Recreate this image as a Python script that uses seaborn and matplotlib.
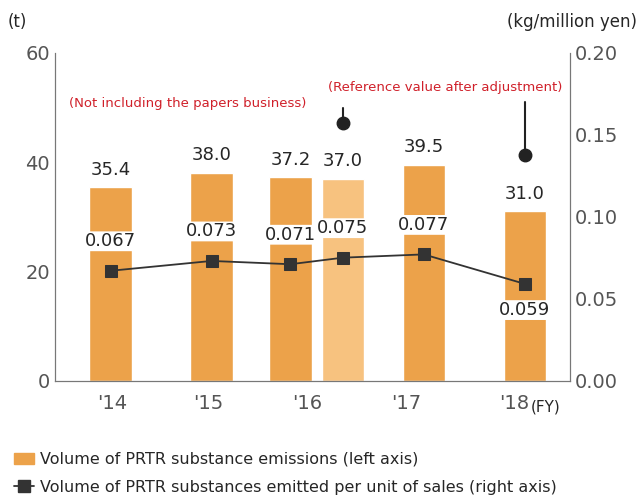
import matplotlib
matplotlib.use("Agg")
import matplotlib.pyplot as plt
import seaborn as sns
from matplotlib.patches import Patch
from matplotlib.lines import Line2D

years = ["'14", "'15", "'16", "'17", "'18"]
bar_pos = [0, 1, 1.78, 2.3, 3.1, 4.1]
emissions = [35.4, 38.0, 37.2, 37.0, 39.5, 31.0]
bar_colors = ["#eca24a", "#eca24a", "#eca24a", "#f7c27f", "#eca24a", "#eca24a"]
per_sales = [0.067, 0.073, 0.071, 0.075, 0.077, 0.059]
tick_pos = [0.02, 0.97, 1.95, 2.93, 4.0]

sns.set_style("white")
fig = plt.figure(figsize=(6.4, 5.04), dpi=100)
ax = fig.add_axes([0.086, 0.245, 0.805, 0.65])
ax2 = ax.twinx()

ax.bar(bar_pos, emissions, width=0.42, color=bar_colors, zorder=1)
for x, v in zip(bar_pos, emissions):
    ax.text(x, v + 1.6, f"{v:.1f}", ha="center", va="bottom", fontsize=13)
ax.set_ylim(0, 60)
ax.set_xlim(-0.55, 4.55)
ax.set_yticks([0, 20, 40, 60])
ax.set_xticks(tick_pos)
ax.set_xticklabels(years)
ax.tick_params(axis="y", labelsize=14, colors="#555555", length=0)
ax.tick_params(axis="x", labelsize=14, colors="#555555", length=0, pad=10)

sns.lineplot(x=bar_pos, y=per_sales, ax=ax2, color="#333333", marker="s",
             markersize=8, markeredgecolor="#333333", linewidth=1.3, zorder=3)
for i, (x, v) in enumerate(zip(bar_pos, per_sales)):
    dy = -0.016 if i == 5 else 0.018
    ax2.text(x, v + dy, f"{v:.3f}", ha="center", va="center", fontsize=13,
             bbox=dict(boxstyle="round,pad=0.05", fc="white", ec="none"))
ax2.set_ylim(0, 0.2)
ax2.set_yticks([0, 0.05, 0.10, 0.15, 0.20])
ax2.set_yticklabels(["0.00", "0.05", "0.10", "0.15", "0.20"])
ax2.tick_params(axis="y", labelsize=14, colors="#555555", length=0)

for a in (ax, ax2):
    a.spines["top"].set_visible(False)
    for s in ["left", "right", "bottom"]:
        a.spines[s].set_color("#777777")

# annotation markers
ax.plot([2.3, 2.3], [47.2, 50.0], color="#222222", lw=1.5)
ax.plot(2.3, 47.2, "o", color="#222222", markersize=9)
ax.plot([4.1, 4.1], [41.3, 51.0], color="#222222", lw=1.5)
ax.plot(4.1, 41.3, "o", color="#222222", markersize=9)
ax.text(0.76, 50.8, "(Not including the papers business)", color="#d0202a",
        fontsize=9.5, ha="center", va="center")
ax.text(3.31, 53.6, "(Reference value after adjustment)", color="#d0202a",
        fontsize=9.5, ha="center", va="center")

fig.text(0.012, 0.975, "(t)", fontsize=12, va="top")
fig.text(0.995, 0.975, "(kg/million yen)", fontsize=12, va="top", ha="right")
fig.text(0.83, 0.193, "(FY)", fontsize=11, va="center")

handles = [Patch(color="#eca24a"),
           Line2D([0], [0], color="#333333", marker="s", markersize=8, lw=1.3)]
labels = ["Volume of PRTR substance emissions (left axis)",
          "Volume of PRTR substances emitted per unit of sales (right axis)"]
fig.legend(handles, labels, loc="lower left", bbox_to_anchor=(0.0, -0.01),
           frameon=False, fontsize=11.5, handlelength=1.2, handletextpad=0.4,
           labelspacing=0.8)

fig.savefig("out.png", dpi=100)
